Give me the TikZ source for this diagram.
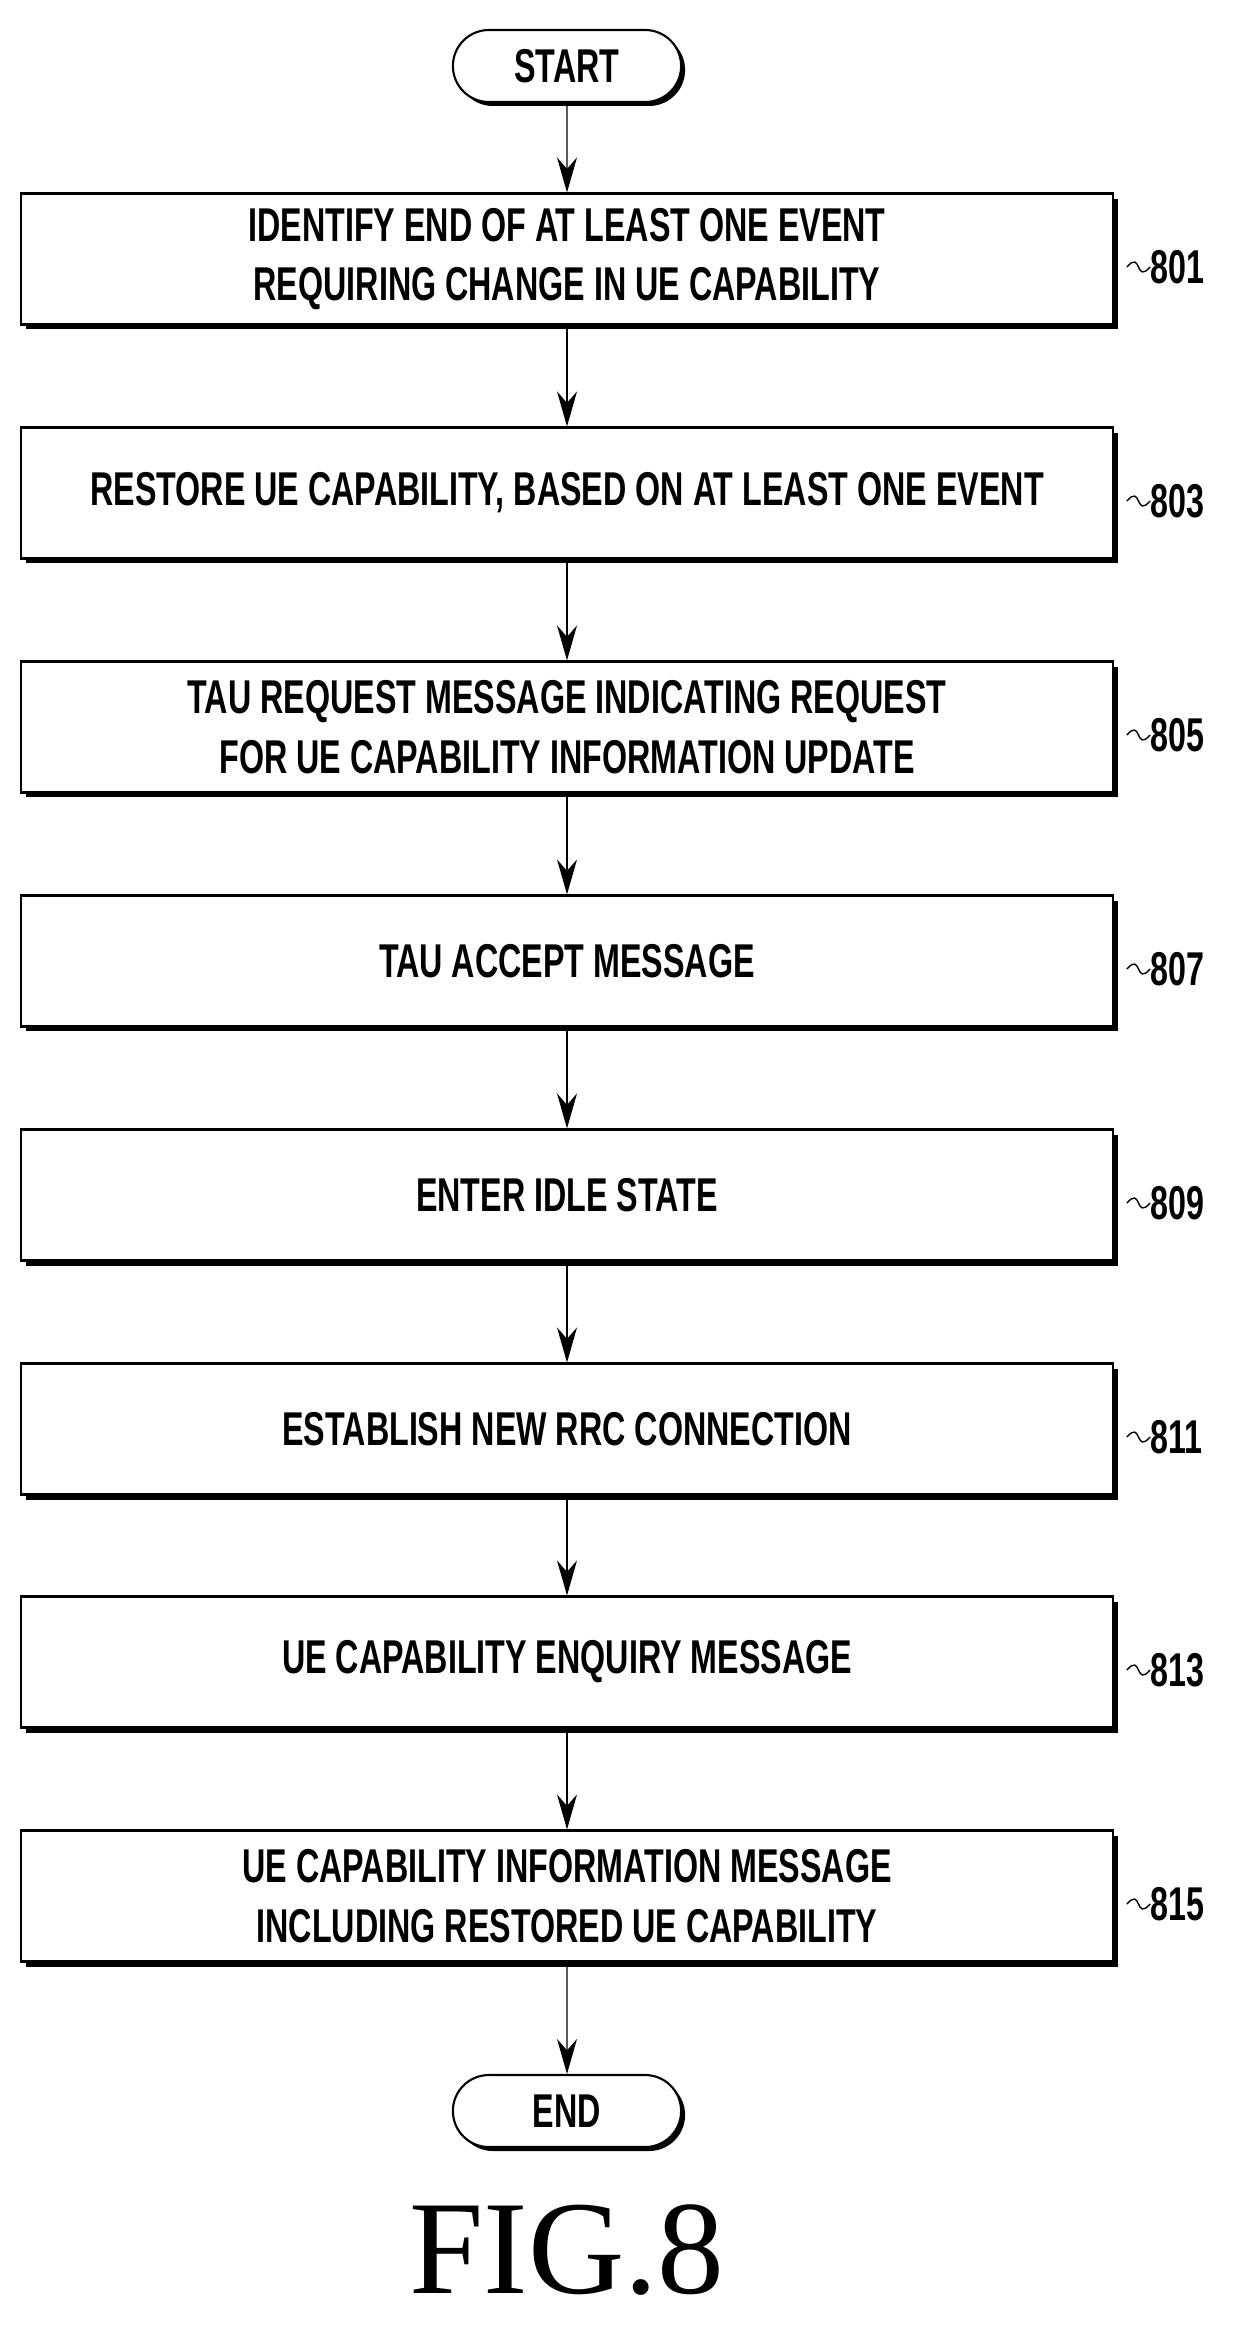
\documentclass[tikz,border=0pt]{standalone}
\usepackage{fontspec}
\setmainfont{Liberation Sans}
\newfontfamily\figfont{Liberation Serif}
\usetikzlibrary{arrows.meta,positioning,shapes.misc,shadows}
\newcommand{\cnd}[1]{\scalebox{0.68}[1]{\bfseries #1}}
\begin{document}
\begin{tikzpicture}[x=0.02cm,y=-0.02cm,
	stepbox/.style={
		rectangle,
		draw=black,
		line width=1.2pt,
		fill=white,
		minimum width=21.86cm,
		minimum height=2.62cm,
		align=center,
		font=\fontsize{27}{34}\selectfont,
		drop shadow={shadow xshift=0.1cm,shadow yshift=-0.1cm,fill=black,opacity=1}},
	term/.style={
		rounded rectangle,
		draw=black,
		line width=1.2pt,
		fill=white,
		minimum width=4.8cm,
		minimum height=1.44cm,
		font=\fontsize{27}{32}\selectfont,
		drop shadow={shadow xshift=0.08cm,shadow yshift=-0.08cm,fill=black,opacity=1}},
	myarrow/.style={-{Stealth[length=0.7cm,width=0.4cm]},line width=0.8pt},
	tag/.style={anchor=west,font=\fontsize{27}{32}\selectfont}
	]
	\useasboundingbox (0,0) rectangle (1256,2346);
	\node[term] (start) at (567,66) {\cnd{START}};
	\foreach \n/\y/\txt in {% name/centre y/text
		801/267/{\cnd{IDENTIFY END OF AT LEAST ONE EVENT}\\\cnd{REQUIRING CHANGE IN UE CAPABILITY}},
		803/501/{\cnd{RESTORE UE CAPABILITY, BASED ON AT LEAST ONE EVENT}},
		805/735/{\cnd{TAU REQUEST MESSAGE INDICATING REQUEST}\\\cnd{FOR UE CAPABILITY INFORMATION UPDATE}},
		807/969/{\cnd{TAU ACCEPT MESSAGE}},
		809/1203/{\cnd{ENTER IDLE STATE}},
		811/1437/{\cnd{ESTABLISH NEW RRC CONNECTION}},
		813/1670/{\cnd{UE CAPABILITY ENQUIRY MESSAGE}},
		815/1904/{\cnd{UE CAPABILITY INFORMATION MESSAGE}\\\cnd{INCLUDING RESTORED UE CAPABILITY}}}
	{
	\node[stepbox] (s\n) at (567,\y-8) {\txt};
	\node[tag,inner sep=0pt] (t\n) at (1150,\y) {\cnd{\n}};
	\draw[line width=0.8pt] ([xshift=0.25cm]s\n.east |- t\n.west) .. controls +(0.3cm,0.35cm) and +(-0.3cm,-0.35cm) .. (t\n.west);
	}
	\node[term] (end) at (567,2111) {\cnd{END}};
	\node[font=\figfont\fontsize{76}{80}\selectfont] (fig) at (567,2250) {FIG.8};
	\foreach \i/\j in {start/s801,s801/s803,s803/s805,s805/s807,s807/s809,s809/s811,s811/s813,s813/s815,s815/end}
	\draw[myarrow] (\i) -- (\j);
\end{tikzpicture}
\end{document}
